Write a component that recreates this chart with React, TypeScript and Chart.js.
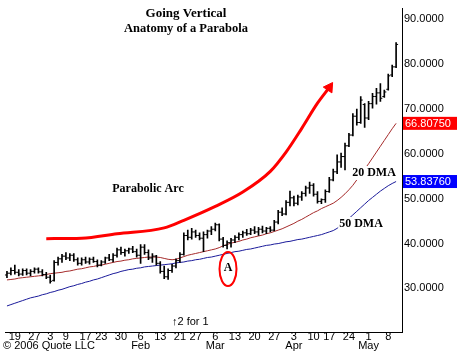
import React, { useEffect, useRef } from 'react';
import { Chart, registerables } from 'chart.js';
Chart.register(...registerables);

// Trading days shown on the chart (Dec 2005 – May 2006)
const dates = [
  '12/15','12/16','12/19','12/20','12/21','12/22','12/23','12/27','12/28','12/29','12/30',
  '1/3','1/4','1/5','1/6','1/9','1/10','1/11','1/12','1/13','1/17','1/18','1/19','1/20',
  '1/23','1/24','1/25','1/26','1/27','1/30','1/31',
  '2/1','2/2','2/3','2/6','2/7','2/8','2/9','2/10','2/13','2/14','2/15','2/16','2/17',
  '2/21','2/22','2/23','2/24','2/27','2/28',
  '3/1','3/2','3/3','3/6','3/7','3/8','3/9','3/10','3/13','3/14','3/15','3/16','3/17',
  '3/20','3/21','3/22','3/23','3/24','3/27','3/28','3/29','3/30','3/31',
  '4/3','4/4','4/5','4/6','4/7','4/10','4/11','4/12','4/13','4/17','4/18','4/19','4/20','4/21',
  '4/24','4/25','4/26','4/27','4/28',
  '5/1','5/2','5/3','5/4','5/5','5/8','5/9','5/10'
];

// Week-start tick labels and month names
const weekStarts = ['12/19','12/27','1/3','1/9','1/17','1/23','1/30','2/6','2/13','2/21','2/27',
  '3/6','3/13','3/20','3/27','4/3','4/10','4/17','4/24','5/1','5/8'];
const monthStarts: Record<string, string> = { '2/6': 'Feb', '3/6': 'Mar', '4/3': 'Apr', '5/1': 'May' };

const yTicks = [30, 40, 50, 60, 70, 80, 90];

const opens = [
  33.0,33.4,34.0,33.6,33.2,34.0,33.4,33.8,34.3,33.7,33.1,32.5,31.8,35.8,36.6,37.2,36.8,37.4,36.4,35.6,
  36.4,35.9,36.5,36.0,35.2,35.9,36.8,36.4,37.4,38.6,38.0,38.4,38.8,38.2,37.4,39.2,38.0,36.8,37.2,35.6,
  33.8,32.6,34.0,35.0,36.2,37.6,41.8,41.4,42.6,41.8,41.2,42.0,42.8,43.2,44.2,41.0,39.6,40.2,40.8,41.4,
  42.0,42.4,42.2,43.0,42.6,43.2,42.8,43.4,43.0,44.8,47.0,46.6,49.2,50.2,49.0,50.4,51.2,52.4,53.0,51.0,
  49.4,49.8,51.6,54.2,56.0,58.2,59.4,61.8,64.2,68.4,67.0,71.0,68.0,71.2,72.8,73.6,72.8,74.4,77.6,79.4
];
const highs = [
  33.8,34.6,35.2,34.2,34.4,34.4,34.2,34.6,34.6,34.2,33.6,33.0,36.2,37.0,37.6,38.0,37.8,37.8,36.8,36.8,
  37.0,36.8,37.0,36.4,36.2,37.0,37.6,37.8,39.0,39.2,38.8,39.0,39.4,38.8,39.8,39.8,38.6,37.8,37.4,36.0,
  35.0,34.4,35.4,36.6,38.0,42.4,43.0,43.4,43.0,42.4,42.6,43.0,43.8,44.6,44.4,41.4,40.6,41.2,41.8,42.4,
  42.8,43.2,43.4,43.8,43.6,43.9,43.6,43.8,45.2,47.4,48.0,49.6,51.7,50.6,50.8,51.6,52.8,53.7,53.4,51.6,
  50.0,52.0,54.8,56.6,59.8,60.2,62.4,64.6,69.0,70.0,72.8,71.2,71.7,73.5,74.6,75.7,74.2,77.8,79.8,84.8
];
const lows = [
  32.4,33.0,33.2,32.8,32.9,33.0,32.8,33.4,33.4,32.8,32.2,31.2,31.6,35.2,35.8,36.4,36.2,36.0,35.2,35.2,
  35.6,35.4,35.8,34.8,35.0,35.6,36.2,35.9,37.0,37.6,37.2,37.8,38.0,37.0,35.6,37.6,36.4,35.8,35.2,33.4,
  32.2,32.0,33.6,34.6,35.8,37.4,40.8,41.0,41.4,40.8,38.2,41.2,42.0,42.8,40.6,39.2,38.8,39.2,40.2,40.8,
  41.4,41.8,42.0,42.2,41.8,42.4,42.2,42.6,42.8,44.4,46.2,46.4,48.4,48.4,48.6,49.6,50.6,51.2,50.6,49.0,
  48.9,49.2,51.4,54.0,55.6,57.0,56.4,61.6,64.0,66.4,66.8,65.9,67.6,70.2,71.1,71.7,72.6,74.2,77.2,79.2
];
const closes = [
  33.4,34.0,33.6,33.2,34.0,33.4,33.8,34.3,33.7,33.1,32.5,31.6,35.8,36.6,37.2,36.8,37.4,36.4,35.6,36.4,
  35.9,36.5,36.0,35.2,35.9,36.8,36.4,37.4,38.6,38.0,38.4,38.8,38.2,37.4,39.2,38.0,36.8,37.2,35.6,33.8,
  32.6,34.0,35.0,36.2,37.6,41.8,41.4,42.6,41.8,41.2,42.0,42.8,43.2,44.2,41.0,39.6,40.2,40.8,41.4,42.0,
  42.4,42.2,43.0,42.6,43.2,42.8,43.4,43.0,44.8,47.0,46.6,49.2,50.2,49.0,50.4,51.2,52.4,53.0,51.0,49.4,
  49.8,51.6,54.2,56.0,58.2,59.4,61.8,64.2,68.4,67.0,72.0,68.0,71.2,72.8,73.6,72.4,73.8,77.4,79.4,84.4
];
const dma20 = [
  31.9,32.0,32.1,32.3,32.4,32.5,32.6,32.7,32.8,32.9,33.1,33.3,33.4,33.5,33.6,33.8,33.9,34.1,34.3,34.4,
  34.6,34.8,34.9,35.1,35.2,35.4,35.6,35.8,36.0,36.1,36.3,36.4,36.6,36.7,36.8,36.9,37.0,37.0,37.0,36.9,
  36.7,36.5,36.4,36.5,36.8,37.1,37.4,37.6,37.8,38.0,38.2,38.4,38.6,38.8,39.1,39.5,39.8,40.1,40.3,40.5,
  40.8,41.0,41.3,41.5,41.7,41.9,42.2,42.4,42.7,43.0,43.3,43.7,44.1,44.5,45.0,45.4,45.9,46.4,46.9,47.3,
  47.8,48.2,48.6,49.0,49.6,50.3,51.1,52.0,53.0,54.2,55.4,56.6,57.8,59.1,60.4,61.7,63.0,64.3,65.6,66.8075
];
const dma50 = [
  26.1,26.4,26.7,27.0,27.3,27.6,27.9,28.1,28.3,28.6,28.8,29.1,29.3,29.6,29.8,30.1,30.4,30.6,30.9,31.1,
  31.4,31.6,31.9,32.1,32.4,32.7,33.0,33.3,33.5,33.8,34.0,34.2,34.3,34.5,34.6,34.8,34.9,35.0,35.1,35.2,
  35.3,35.4,35.5,35.7,35.8,35.9,36.1,36.2,36.4,36.5,36.7,36.9,37.0,37.2,37.4,37.6,37.8,38.0,38.2,38.3,
  38.5,38.7,38.8,39.0,39.2,39.4,39.6,39.7,39.9,40.0,40.2,40.4,40.5,40.7,40.9,41.0,41.2,41.4,41.6,41.8,
  42.0,42.3,42.6,42.9,43.4,44.1,44.9,45.6,46.4,47.2,48.0,48.8,49.6,50.3,51.0,51.7,52.3,52.9,53.4,53.8376
];
// Hand-drawn "parabolic arc" annotation (index -> value)
const arcIndex = [10, 19, 28, 40, 45, 53, 60, 67, 71, 75, 79, 82];
const arcValue = [41.1, 41.2, 42.2, 43.5, 45.2, 48.3, 51.5, 56.1, 60.4, 65.7, 71.3, 74.8];

const SANS = '"Liberation Sans", Arial, sans-serif';
const SERIF = '"Liberation Serif", "Times New Roman", serif';

export default function App() {
  const ref = useRef<HTMLCanvasElement>(null);

  useEffect(() => {
    document.body.style.margin = '0';
    const canvas = ref.current!;
    const labels = [...dates, ''];
    const arc: (number | null)[] = labels.map(() => null);
    arcIndex.forEach((ix, k) => { arc[ix] = arcValue[k]; });
    const arrowIdx = arcIndex[arcIndex.length - 1];

    const annotations = {
      id: 'annotations',
      afterDatasetsDraw(chart: any) {
        const { ctx, scales } = chart;
        const y = scales.y;
        ctx.save();
        ctx.fillStyle = '#000';
        ctx.textBaseline = 'middle';
        ctx.textAlign = 'center';
        ctx.font = `bold 13px ${SERIF}`;
        ctx.fillText('Going Vertical', 186, 14);
        ctx.font = `bold 12.5px ${SERIF}`;
        ctx.fillText('Anatomy of a Parabola', 186, 29);
        ctx.font = `bold 12px ${SERIF}`;
        ctx.fillText('Parabolic Arc', 148, 189);

        // DMA labels with white backing
        const lab = (t: string, cx: number, cy: number) => {
          const w = ctx.measureText(t).width;
          ctx.fillStyle = '#fff';
          ctx.fillRect(cx - w / 2 - 1, cy - 7, w + 2, 14);
          ctx.fillStyle = '#000';
          ctx.fillText(t, cx, cy);
        };
        ctx.font = `bold 12px ${SERIF}`;
        lab('20 DMA', 374, 173);
        lab('50 DMA', 361, 224);

        // "A" marker with red ellipse
        ctx.font = `bold 12px ${SERIF}`;
        ctx.fillText('A', 228, 268);
        ctx.strokeStyle = '#ff0000';
        ctx.lineWidth = 2;
        ctx.beginPath();
        ctx.ellipse(228, 269, 8.5, 17, 0, 0, Math.PI * 2);
        ctx.stroke();

        // split marker
        ctx.font = `11px ${SANS}`;
        ctx.textAlign = 'left';
        ctx.fillText('\u21912 for 1', 172, 322);

        // copyright
        ctx.fillText('\u00A9 2006 Quote LLC', 3, 346);

        // last-value boxes on the price axis
        const box = (v: number, bg: string) => {
          const py = y.getPixelForValue(v);
          ctx.fillStyle = bg;
          ctx.fillRect(chart.chartArea.right + 1, py - 6.5, 60, 13);
          ctx.fillStyle = '#fff';
          ctx.font = `11px ${SANS}`;
          ctx.textAlign = 'left';
          ctx.fillText(v.toFixed(5), chart.chartArea.right + 3, py + 0.5);
        };
        box(dma20[dma20.length - 1], '#ff0000');
        box(dma50[dma50.length - 1], '#0000ff');
        ctx.restore();
      }
    };

    const chart = new Chart(canvas, {
      type: 'bar',
      data: {
        labels,
        datasets: [
          {
            type: 'line', data: dma50, borderColor: '#1a1a9a', borderWidth: 1,
            pointRadius: 0, order: 4
          } as any,
          {
            type: 'line', data: dma20, borderColor: '#a52a2a', borderWidth: 1,
            pointRadius: 0, order: 3
          } as any,
          {
            type: 'bar', data: lows.map((l, i) => [l, highs[i]]), backgroundColor: '#000',
            barThickness: 1, borderWidth: 0, order: 2
          } as any,
          {
            type: 'line', data: opens, showLine: false, pointStyle: 'dash', rotation: 180,
            pointRadius: 2, borderColor: '#000', borderWidth: 1, order: 1
          } as any,
          {
            type: 'line', data: closes, showLine: false, pointStyle: 'dash', rotation: 0,
            pointRadius: 2, borderColor: '#000', borderWidth: 1, order: 1
          } as any,
          {
            type: 'line', data: arc, spanGaps: true, borderColor: '#ff0000', borderWidth: 3,
            cubicInterpolationMode: 'monotone',
            pointStyle: 'triangle', rotation: 34,
            pointRadius: arc.map((_, i) => (i === arrowIdx ? 6 : 0)),
            pointBackgroundColor: '#ff0000', pointBorderColor: '#ff0000', pointBorderWidth: 1,
            order: 0
          } as any
        ]
      },
      options: {
        responsive: false,
        animation: false,
        events: [],
        layout: { padding: 0 },
        plugins: { legend: { display: false }, tooltip: { enabled: false }, title: { display: false } },
        scales: {
          x: {
            type: 'category',
            offset: true,
            grid: { display: false, drawTicks: false },
            border: { display: true, color: '#000', width: 1 },
            ticks: {
              autoSkip: false, maxRotation: 0, minRotation: 0, padding: 0,
              color: '#000',
              font: { family: SANS, size: 11, lineHeight: 0.82 },
              callback: (_v: any, i: number) => {
                const d = labels[i];
                if (!weekStarts.includes(d)) return '';
                const day = d.split('/')[1];
                return monthStarts[d] ? [day, monthStarts[d]] : day;
              }
            },
            afterFit: (s: any) => { s.height = 20; }
          },
          y: {
            type: 'linear',
            position: 'right',
            min: 20.29,
            max: 92.39,
            grid: { display: false, drawTicks: false },
            border: { display: true, color: '#000', width: 1 },
            ticks: {
              color: '#000', padding: 2,
              font: { family: SANS, size: 11 },
              callback: (v: any) => Number(v).toFixed(4)
            },
            afterBuildTicks: (s: any) => { s.ticks = yTicks.map((v) => ({ value: v })); },
            afterFit: (s: any) => { s.width = 55; }
          }
        }
      } as any,
      plugins: [annotations]
    });
    return () => chart.destroy();
  }, []);

  return <canvas ref={ref} width={457} height={352} style={{ display: 'block' }} />;
}
